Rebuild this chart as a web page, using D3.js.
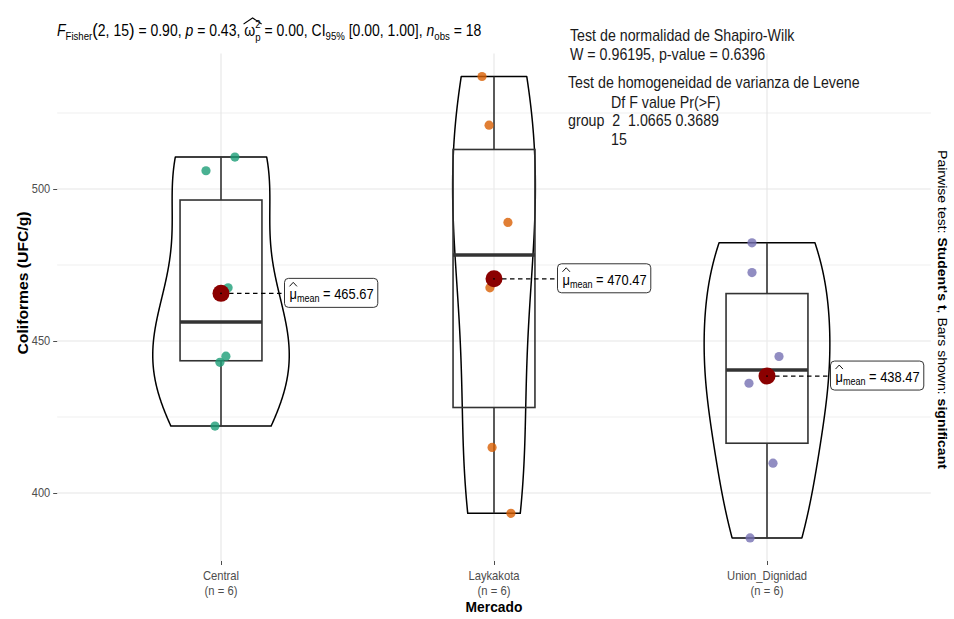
<!DOCTYPE html>
<html><head><meta charset="utf-8">
<script src="https://cdn.jsdelivr.net/npm/d3@7"></script>
<style>
body{margin:0;background:#fff}
text{font-family:"Liberation Sans",Arial,Helvetica,sans-serif}
</style>
</head><body>
<svg id="c" width="954" height="619"></svg>
<script>
// ---------------- data ----------------
const categories = ["Central", "Laykakota", "Union_Dignidad"];
const groupCounts = [6, 6, 6];
const centralValues   = [510.5, 506, 467.5, 445, 443, 422];
const laykakotaValues = [537, 521, 489, 467.5, 415, 393.3];
const unionValues     = [482.3, 472.5, 444.9, 436.1, 409.8, 385.22];
// horizontal jitter of each point, in category units
const centralJitter   = [0.051, -0.055, 0.026, 0.018, -0.004, -0.022];
const laykakotaJitter = [-0.044, -0.018, 0.051, -0.015, -0.007, 0.062];
const unionJitter     = [-0.055, -0.055, 0.044, -0.066, 0.022, -0.062];
const pointColors = ["#1B9E77", "#D95F02", "#7570B3"];
const yMajorTicks = [400, 450, 500];
const yMinorTicks = [425, 475, 525];
const xAxisTitle = "Mercado";
const yAxisTitle = "Coliformes (UFC/g)";
const shapiroLines = ["Test de normalidad de Shapiro-Wilk", "W = 0.96195, p-value = 0.6396"];
const leveneLines = ["Test de homogeneidad de varianza de Levene", "Df F value Pr(>F)", "group  2  1.0665 0.3689", "15"];

const groups = [centralValues, laykakotaValues, unionValues];
const jitters = [centralJitter, laykakotaJitter, unionJitter];

// ---------------- scales ----------------
const svg = d3.select("#c");
const x = d3.scalePoint().domain(categories).range([221, 767]);
const step = x.step();
const y = d3.scaleLinear().domain([400, 500]).range([493, 189]);
const all = groups.flat();
const dmin = d3.min(all), dmax = d3.max(all), dr = dmax - dmin;
const panelTop = y(dmax + 0.05 * dr), panelBottom = y(dmin - 0.05 * dr);
const panelLeft = x(categories[0]) - 0.6 * step, panelRight = x(categories[2]) + 0.6 * step;

function fitX(sel, ax, factor) {
  sel.attr("transform", `translate(${ax},0) scale(${factor},1) translate(${-ax},0)`);
}
function fitWidth(sel, ax, target) {
  const w = sel.node().getBBox().width;
  fitX(sel, ax, target / w);
  return target / w;
}

// ---------------- grid ----------------
const grid = svg.append("g");
grid.selectAll(".ymin").data(yMinorTicks).join("line")
  .attr("x1", panelLeft).attr("x2", panelRight)
  .attr("y1", d => y(d)).attr("y2", d => y(d))
  .attr("stroke", "#ededed").attr("stroke-width", 0.9);
grid.selectAll(".ymaj").data(yMajorTicks).join("line")
  .attr("x1", panelLeft).attr("x2", panelRight)
  .attr("y1", d => y(d)).attr("y2", d => y(d))
  .attr("stroke", "#e6e6e6").attr("stroke-width", 1.1);
grid.selectAll(".xmaj").data(categories).join("line")
  .attr("x1", d => x(d)).attr("x2", d => x(d))
  .attr("y1", panelTop).attr("y2", panelBottom)
  .attr("stroke", "#e6e6e6").attr("stroke-width", 1.1);

// ---------------- axes ----------------
const yAxis = d3.axisLeft(y).tickValues(yMajorTicks).tickSize(4).tickPadding(3);
const yg = svg.append("g").attr("transform", `translate(${panelLeft},0)`).call(yAxis);
yg.select(".domain").remove();
yg.selectAll("line").attr("stroke", "#4d4d4d");
yg.selectAll("text").attr("fill", "#4d4d4d").attr("font-size", 12)
  .style("font-family", "'Liberation Sans',Arial,sans-serif")
  .each(function () { fitX(d3.select(this), -7, 0.92); });

const xAxis = d3.axisBottom(x).tickSize(4).tickFormat("");
const xg = svg.append("g").attr("transform", `translate(0,${panelBottom})`).call(xAxis);
xg.select(".domain").remove();
xg.selectAll("line").attr("stroke", "#4d4d4d");

categories.forEach((c, i) => {
  const t = svg.append("text").attr("x", x(c)).attr("y", 580).attr("text-anchor", "middle")
    .attr("font-size", 12.5).attr("fill", "#4d4d4d");
  t.append("tspan").attr("x", x(c)).text(c);
  t.append("tspan").attr("x", x(c)).attr("dy", 15).text(`(n = ${groupCounts[i]})`);
  fitX(t, x(c), 0.9);
});

const xt = svg.append("text").attr("x", x(categories[1])).attr("y", 612).attr("text-anchor", "middle")
  .attr("font-size", 15).attr("font-weight", "bold").attr("fill", "#000").text(xAxisTitle);
fitX(xt, x(categories[1]), 0.92);

const ytg = svg.append("g").attr("transform", "translate(28,283) rotate(-90)");
const yt = ytg.append("text").attr("x", 0).attr("y", 0).attr("text-anchor", "middle")
  .attr("font-size", 15).attr("font-weight", "bold").attr("fill", "#000").text(yAxisTitle);
fitWidth(yt, 0, 143);

// ---------------- violins ----------------
function gaussKde(vals, bw, pts) {
  const n = vals.length;
  return pts.map(p => d3.sum(vals, v => Math.exp(-0.5 * ((p - v) / bw) ** 2)) / (n * bw * Math.sqrt(2 * Math.PI)));
}
function bwNrd0(vals) {
  const s = d3.deviation(vals);
  const sorted = vals.slice().sort(d3.ascending);
  const iqr = d3.quantileSorted(sorted, 0.75) - d3.quantileSorted(sorted, 0.25);
  const lo = Math.min(s, iqr / 1.34);
  return 0.9 * lo * Math.pow(vals.length, -0.2);
}
const dens = groups.map(vals => {
  const mn = d3.min(vals), mx = d3.max(vals);
  const pts = d3.range(512).map(i => mn + (mx - mn) * i / 511);
  const d = gaussKde(vals, bwNrd0(vals), pts);
  return pts.map((p, i) => ({ v: p, d: d[i] }));
});
const maxDen = d3.max(dens.flat(), d => d.d);
const violinHalf = 0.25 * step;
dens.forEach((dd, i) => {
  const cx = x(categories[i]);
  const pts = dd.map(d => [cx + violinHalf * d.d / maxDen, y(d.v)])
    .concat(dd.slice().reverse().map(d => [cx - violinHalf * d.d / maxDen, y(d.v)]));
  svg.append("path").attr("d", d3.line()(pts) + "Z")
    .attr("fill", "#fff").attr("fill-opacity", 0.2)
    .attr("stroke", "#000").attr("stroke-width", 1.5).attr("stroke-linejoin", "round");
});

// ---------------- boxplots ----------------
const boxHalf = 0.15 * step;
groups.forEach((vals, i) => {
  const cx = x(categories[i]);
  const s = vals.slice().sort(d3.ascending);
  const q1 = d3.quantileSorted(s, 0.25), q2 = d3.quantileSorted(s, 0.5), q3 = d3.quantileSorted(s, 0.75);
  const g = svg.append("g");
  g.append("line").attr("x1", cx).attr("x2", cx).attr("y1", y(q3)).attr("y2", y(s[s.length - 1]))
    .attr("stroke", "#333").attr("stroke-width", 1.6);
  g.append("line").attr("x1", cx).attr("x2", cx).attr("y1", y(q1)).attr("y2", y(s[0]))
    .attr("stroke", "#333").attr("stroke-width", 1.6);
  g.append("rect").attr("x", cx - boxHalf).attr("width", 2 * boxHalf)
    .attr("y", y(q3)).attr("height", y(q1) - y(q3))
    .attr("fill", "none").attr("stroke", "#333").attr("stroke-width", 1.6);
  g.append("line").attr("x1", cx - boxHalf).attr("x2", cx + boxHalf).attr("y1", y(q2)).attr("y2", y(q2))
    .attr("stroke", "#333").attr("stroke-width", 3.5);
});

// ---------------- points ----------------
groups.forEach((vals, i) => {
  svg.append("g").selectAll("circle").data(vals).join("circle")
    .attr("cx", (d, j) => x(categories[i]) + jitters[i][j] * step)
    .attr("cy", d => y(d)).attr("r", 4.6)
    .attr("fill", pointColors[i]).attr("fill-opacity", 0.8);
});

// ---------------- means + labels ----------------
groups.forEach((vals, i) => {
  const cx = x(categories[i]);
  const m = d3.mean(vals);
  const my = y(m);
  const lx = cx + 63.5;
  svg.append("line").attr("x1", cx).attr("x2", lx).attr("y1", my).attr("y2", my)
    .attr("stroke", "#000").attr("stroke-width", 1.3).attr("stroke-dasharray", "4.5,3.5");
  svg.append("circle").attr("cx", cx).attr("cy", my).attr("r", 8.5).attr("fill", "#8B0000");
  svg.append("circle").attr("cx", cx).attr("cy", my).attr("r", 0.9).attr("fill", "#000");
  const lg = svg.append("g");
  const rect = lg.append("rect");
  const tg2 = lg.append("g");
  const t = tg2.append("text").attr("x", lx + 5).attr("y", my + 6).attr("font-size", 15).attr("fill", "#000");
  const mu = t.append("tspan").text("\u03bc");
  t.append("tspan").attr("font-size", 10.5).attr("dy", 3).text("mean");
  t.append("tspan").attr("dy", -3).text(" = " + m.toFixed(2));
  const mb = mu.node().getBBox();
  const hy = my - 7;
  tg2.append("path")
    .attr("d", `M${mb.x},${hy} L${mb.x + mb.width / 2},${hy - 4} L${mb.x + mb.width},${hy}`)
    .attr("fill", "none").attr("stroke", "#000").attr("stroke-width", 1);
  const fac = 0.86;
  fitX(tg2, lx + 5, fac);
  const bb = t.node().getBBox();
  rect.attr("x", lx).attr("y", my - 15).attr("width", bb.width * fac + 9).attr("height", 29)
    .attr("rx", 4).attr("fill", "#fff").attr("stroke", "#333").attr("stroke-width", 1);
});

// ---------------- title ----------------
const tg = svg.append("g");
const title = tg.append("text").attr("x", 57).attr("y", 36).attr("font-size", 16).attr("fill", "#000");
title.append("tspan").attr("font-style", "italic").text("F");
title.append("tspan").attr("font-size", 11).attr("dy", 4).text("Fisher");
title.append("tspan").attr("dy", -4).attr("font-size", 19).text("(");
title.append("tspan").text("2, 15");
title.append("tspan").attr("font-size", 19).text(")");
title.append("tspan").text(" = 0.90, ");
title.append("tspan").attr("font-style", "italic").text("p");
title.append("tspan").text(" = 0.43, ");
const om = title.append("tspan").text("\u03c9");
const sup = title.append("tspan").attr("font-size", 11).attr("dy", -8).text("2");
title.append("tspan").attr("font-size", 11).attr("dx", -6).attr("dy", 13).text("p");
title.append("tspan").attr("dy", -5).text(" = 0.00, CI");
title.append("tspan").attr("font-size", 11).attr("dy", 4).text("95%");
title.append("tspan").attr("dy", -4).text(" [0.00, 1.00], ");
title.append("tspan").attr("font-style", "italic").text("n");
title.append("tspan").attr("font-size", 11).attr("dy", 4).text("obs");
title.append("tspan").attr("dy", -4).text(" = 18");
const ob = om.node().getBBox(), sb = sup.node().getBBox();
const hx0 = ob.x - 1, hx1 = sb.x + sb.width + 1;
tg.append("path").attr("d", `M${hx0},${ob.y + 2} L${(hx0 + hx1) / 2},${ob.y - 4} L${hx1},${ob.y + 2}`)
  .attr("fill", "none").attr("stroke", "#000").attr("stroke-width", 1.1);
fitWidth(tg, 57, 425);

// ---------------- test annotations ----------------
const ag = svg.append("g");
ag.append("text").attr("x", 570).attr("y", 41).attr("font-size", 16).text(shapiroLines[0]);
ag.append("text").attr("x", 570).attr("y", 60).attr("font-size", 16).text(shapiroLines[1]);
const l3 = ag.append("text").attr("x", 568).attr("y", 88).attr("font-size", 16).text(leveneLines[0]);
ag.append("text").attr("x", 611).attr("y", 108).attr("font-size", 16).text(leveneLines[1]);
ag.append("text").attr("x", 568).attr("y", 126).attr("font-size", 16).style("white-space", "pre").text(leveneLines[2]);
ag.append("text").attr("x", 611).attr("y", 145).attr("font-size", 16).text(leveneLines[3]);
const f3 = 292 / l3.node().getComputedTextLength();
ag.selectAll("text").attr("fill", "#1a1a1a").each(function () {
  const sx = +d3.select(this).attr("x");
  fitX(d3.select(this), sx, f3);
});

// ---------------- pairwise caption ----------------
const pg = svg.append("g").attr("transform", "translate(938,150) rotate(90)");
const pt = pg.append("text").attr("x", 0).attr("y", 0).attr("font-size", 13).attr("fill", "#000");
pt.append("tspan").text("Pairwise test: ");
pt.append("tspan").attr("font-weight", "bold").text("Student's t");
pt.append("tspan").text(", Bars shown: ");
pt.append("tspan").attr("font-weight", "bold").text("significant");
fitWidth(pt, 0, 320);
</script>
</body></html>
